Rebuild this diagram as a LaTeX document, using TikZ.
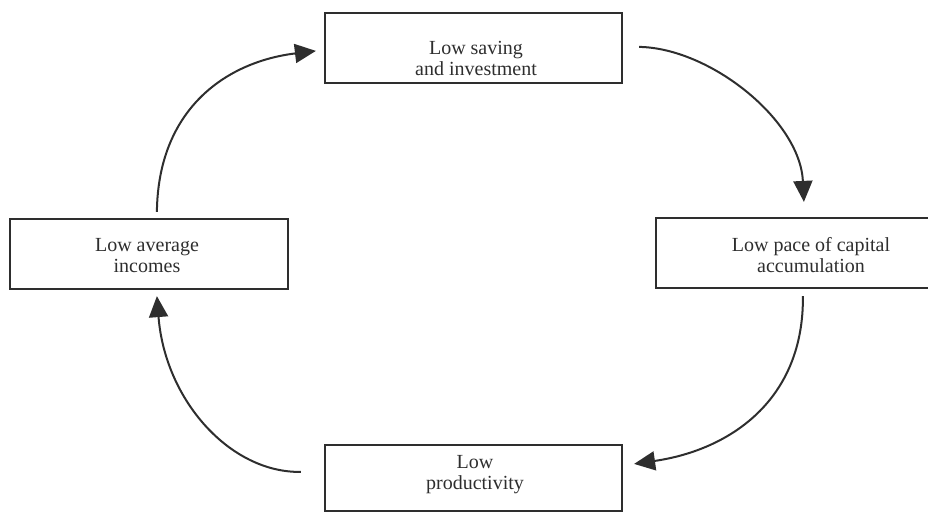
\documentclass[tikz,border=0pt]{standalone}
\usepackage{fontspec}
\setmainfont{Liberation Serif}
\usetikzlibrary{arrows.meta}
\definecolor{ink}{HTML}{2E2E2E}
\begin{document}
\begin{tikzpicture}[x=1pt,y=-1pt,
  box/.style={draw=ink, line width=2.2pt, rectangle, inner sep=0pt},
  lbl/.style={text=ink, align=center, inner sep=0pt, font=\fontsize{20}{21}\selectfont},
  flow/.style={draw=ink, line width=2pt, -{Triangle[length=21pt,width=19pt]}}]
\useasboundingbox (0,0) rectangle (928,512);
\clip (0,0) rectangle (928,512);
% boxes
\node[box, minimum width=297pt, minimum height=70pt] (top) at (473.5,48) {};
\node[box, minimum width=278pt, minimum height=70pt] (left) at (149,254) {};
\node[box, minimum width=312pt, minimum height=70pt] (right) at (812,253) {};
\node[box, minimum width=297pt, minimum height=66pt] (bottom) at (473.5,478) {};
% texts
\node[lbl] (ttop) at (476,60.3) {\strut Low saving\\\strut and investment};
\node[lbl] (tleft) at (147,257.3) {\strut Low average\\\strut incomes};
\node[lbl] (tright) at (811,257.3) {\strut Low pace of capital\\\strut accumulation};
\node[lbl] (tbottom) at (475,474.3) {\strut Low\\\strut productivity};
% connector end points
\coordinate (a1s) at ([shift={(148,-6)}]left.north west);
\coordinate (a1e) at ([shift={(-8,39)}]top.north west);
\coordinate (a2s) at ([shift={(16,35)}]top.north east);
\coordinate (a2e) at ([shift={(149,-15)}]right.north west);
\coordinate (a3s) at ([shift={(148,7)}]right.south west);
\coordinate (a3e) at ([shift={(11,20)}]bottom.north east);
\coordinate (a4s) at ([shift={(-23,28)}]bottom.north west);
\coordinate (a4e) at ([shift={(148,6)}]left.south west);
% connectors
\draw[flow] (a1s) .. controls (158,110) and (225,62) .. (a1e);
\draw[flow] (a2s) .. controls (710,48) and (800,120) .. (a2e);
\draw[flow] (a3s) .. controls (804,400) and (730,450) .. (a3e);
\draw[flow] (a4s) .. controls (230,473) and (165,400) .. (a4e);
\end{tikzpicture}
\end{document}
